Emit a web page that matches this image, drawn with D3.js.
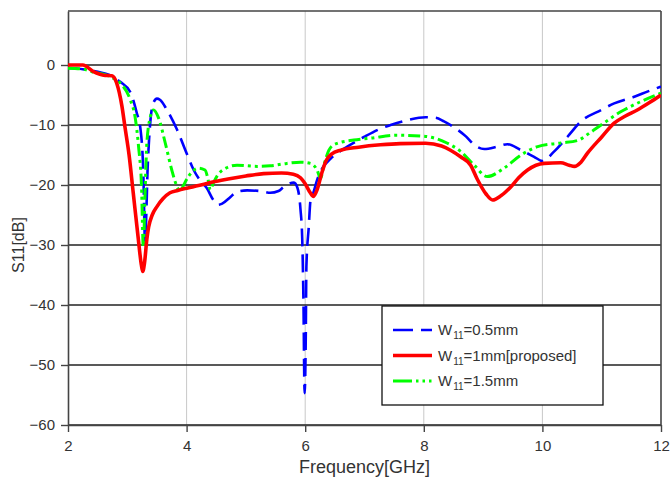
<!DOCTYPE html>
<html>
<head>
<meta charset="utf-8">
<script src="https://cdn.jsdelivr.net/npm/d3@7"></script>
<style>
  html, body { margin: 0; padding: 0; background: #fff; }
  svg { display: block; font-family: "Liberation Sans", Arial, sans-serif; }
</style>
</head>
<body>
<svg id="chart" width="670" height="481"></svg>
<script>
// ---- data ----
const xTicks = [2, 4, 6, 8, 10, 12];
const yTicks = [0, -10, -20, -30, -40, -50, -60];

const freqBlue = [2.0,2.25,2.48,2.71,2.8,2.88,3.05,3.16,3.22,3.27,3.3,3.32,3.34,3.37,3.41,3.44,3.5,3.55,3.67,3.84,4.0,4.12,4.25,4.34,4.45,4.53,4.6,4.74,4.85,5.02,5.24,5.41,5.55,5.64,5.81,5.87,5.92,5.95,5.97,5.99,6.01,6.02,6.06,6.09,6.14,6.2,6.29,6.43,6.71,6.99,7.27,7.44,7.72,8.03,8.2,8.34,8.57,8.71,8.85,9.02,9.24,9.41,9.64,9.86,10.0,10.2,10.42,10.65,10.99,11.21,11.55,11.78,12.0];
const s11Blue  = [-0.5,-0.7,-1.1,-1.7,-2.2,-2.8,-4.5,-8,-10.5,-18,-29.7,-25,-18,-12,-7.5,-6.3,-5.6,-5.8,-7.5,-10.8,-14.7,-17.5,-19.5,-20.5,-22.5,-23.3,-23.1,-22,-21.1,-20.9,-21,-21.3,-21,-20.3,-19.6,-20.5,-24,-29,-39,-54.7,-45,-33.6,-27,-22.5,-21.2,-19.2,-17.2,-15.6,-13.6,-12,-10.6,-10,-9.2,-8.7,-8.8,-9.4,-10.8,-11.9,-13.3,-14,-13.6,-13.2,-14.2,-15.3,-16,-14.4,-12,-9.4,-7.5,-6.4,-5.3,-4.4,-3.6];

const freqRed = [2.0,2.25,2.43,2.6,2.74,2.82,2.91,2.96,3.03,3.1,3.18,3.24,3.26,3.29,3.33,3.36,3.42,3.5,3.6,3.72,3.85,4.02,4.2,4.4,4.7,5.0,5.3,5.6,5.8,5.92,6.0,6.08,6.14,6.2,6.28,6.35,6.45,6.6,6.9,7.27,7.6,8.03,8.3,8.45,8.62,8.79,8.9,9.05,9.16,9.3,9.47,9.6,9.75,10.03,10.31,10.45,10.54,10.65,10.76,11.0,11.21,11.4,11.6,11.8,12.0];
const s11Red  = [0,0,-1.1,-1.7,-1.8,-3,-6.9,-10.3,-15,-21.3,-28.5,-33.5,-34.4,-33,-29,-27,-25,-23.6,-22.3,-21.3,-20.9,-20.5,-20.1,-19.6,-19,-18.5,-18.1,-18,-18.2,-18.8,-19.8,-21.2,-21.9,-20.8,-18,-16,-14.8,-14.2,-13.7,-13.3,-13.1,-13.05,-13.5,-14.2,-15.3,-16.7,-19,-21.5,-22.5,-21.8,-20.3,-18.8,-17.5,-16.4,-16.3,-16.7,-16.9,-16.2,-14.7,-12,-9.7,-8.5,-7.5,-6.3,-5];

const freqGreen = [2.0,2.26,2.43,2.65,2.76,2.88,3.05,3.13,3.19,3.24,3.27,3.3,3.33,3.39,3.44,3.53,3.64,3.75,3.84,3.89,3.95,4.03,4.2,4.31,4.36,4.4,4.45,4.57,4.85,5.19,5.41,5.69,5.92,6.09,6.2,6.26,6.31,6.4,6.48,6.82,7.1,7.55,8.03,8.39,8.62,8.85,9.07,9.35,9.64,9.92,10.31,10.59,10.8,10.99,11.32,11.66,12.0];
const s11Green  = [-0.55,-0.7,-1.2,-1.7,-2.2,-3,-5.8,-8.6,-13.6,-20.3,-30.3,-21.3,-13,-8.6,-7.5,-8.9,-13,-17.5,-20.3,-21.1,-20,-18.6,-17.2,-17.5,-19,-20.8,-19.7,-17.8,-16.7,-16.9,-16.8,-16.4,-16.2,-16.4,-17.5,-18.9,-16.9,-14.2,-13.3,-12.5,-12.2,-11.7,-11.9,-13,-14.4,-16.7,-18.6,-17.2,-15,-13.6,-13,-12.6,-11.3,-10,-7.8,-6.1,-4.7];

const seriesNames = ["0.5mm", "1mm[proposed]", "1.5mm"];
const seriesColors = ["#0000ff", "#ff0000", "#00ff00"];

// ---- layout ----
const svg = d3.select("#chart");
const L = 68, R = 661, T = 11, B = 425;
const x = d3.scaleLinear().domain([2, 12]).range([L, R]);
const y = d3.scaleLinear().domain([-60, 9]).range([B, T]);

// vertical grid (light gray)
svg.append("g").selectAll("line").data(xTicks.slice(1, -1)).join("line")
  .attr("x1", d => x(d)).attr("x2", d => x(d)).attr("y1", T).attr("y2", B)
  .attr("stroke", "#c8c8c8").attr("stroke-width", 1);

// horizontal grid (dark)
svg.append("g").selectAll("line").data(yTicks).join("line")
  .attr("x1", L).attr("x2", R).attr("y1", d => y(d)).attr("y2", d => y(d))
  .attr("stroke", "#222").attr("stroke-width", 1.4);

// axes
const xAxis = d3.axisBottom(x).tickValues(xTicks).tickSize(7).tickSizeOuter(0).tickPadding(8);
const gx = svg.append("g").attr("transform", `translate(0,${B})`).call(xAxis);
gx.select(".domain").attr("stroke", "#444").attr("stroke-width", 1.6);
gx.selectAll(".tick line").attr("stroke", "#444").attr("stroke-width", 1.4);
gx.selectAll("text").attr("font-size", 15).attr("fill", "#333")
  .attr("font-family", "'Liberation Sans', Arial, sans-serif");

const yAxis = d3.axisLeft(y).tickValues(yTicks).tickSize(7).tickSizeOuter(0).tickPadding(6);
const gy = svg.append("g").attr("transform", `translate(${L},0)`).call(yAxis);
gy.select(".domain").attr("stroke", "#444").attr("stroke-width", 1.6);
gy.selectAll(".tick line").attr("stroke", "#444").attr("stroke-width", 1.4);
gy.selectAll("text").attr("font-size", 15).attr("fill", "#333")
  .attr("font-family", "'Liberation Sans', Arial, sans-serif");

// top & right borders
svg.append("line").attr("x1", L).attr("x2", R).attr("y1", T).attr("y2", T)
  .attr("stroke", "#444").attr("stroke-width", 1.6);
svg.append("line").attr("x1", R).attr("x2", R).attr("y1", T).attr("y2", B)
  .attr("stroke", "#444").attr("stroke-width", 1.6);

// clip
svg.append("clipPath").attr("id", "clip").append("rect")
  .attr("x", L).attr("y", T).attr("width", R - L).attr("height", B - T);

const line = d3.line().x(d => x(d[0])).y(d => y(d[1])).curve(d3.curveMonotoneX);
const zip = (a, b) => a.map((v, i) => [v, b[i]]);

const styles = [
  { data: zip(freqBlue, s11Blue), color: seriesColors[0], width: 2.6, dash: "18,8" },
  { data: zip(freqGreen, s11Green), color: seriesColors[2], width: 3, dash: "12,4,3,4,3,4" },
  { data: zip(freqRed, s11Red), color: seriesColors[1], width: 3.6, dash: null }
];
const plot = svg.append("g").attr("clip-path", "url(#clip)");
styles.forEach(s => {
  plot.append("path").attr("d", line(s.data))
    .attr("fill", "none").attr("stroke", s.color).attr("stroke-width", s.width)
    .attr("stroke-dasharray", s.dash).attr("stroke-linejoin", "round");
});

// axis titles
svg.append("text").attr("x", (L + R) / 2).attr("y", 473).attr("text-anchor", "middle")
  .attr("font-size", 18).attr("fill", "#333").text("Frequency[GHz]");
svg.append("text").attr("transform", "translate(24,245) rotate(-90)").attr("text-anchor", "middle")
  .attr("font-size", 16).attr("fill", "#333").text("S11[dB]");

// legend
const lg = svg.append("g");
lg.append("rect").attr("x", 382).attr("y", 306).attr("width", 221).attr("height", 99)
  .attr("fill", "#fff").attr("stroke", "#111").attr("stroke-width", 1.3);
const legendItems = [
  { name: seriesNames[0], color: seriesColors[0], width: 2.6, dash: "20,8" },
  { name: seriesNames[1], color: seriesColors[1], width: 3.6, dash: null },
  { name: seriesNames[2], color: seriesColors[2], width: 3, dash: "19,4,2.5,4,2.5,4,2.5,4" }
];
legendItems.forEach((it, i) => {
  const yy = 330 + i * 25.5;
  lg.append("line").attr("x1", 393).attr("x2", 432).attr("y1", yy).attr("y2", yy)
    .attr("stroke", it.color).attr("stroke-width", it.width).attr("stroke-dasharray", it.dash);
  const t = lg.append("text").attr("x", 438).attr("y", yy + 5).attr("font-size", 15).attr("fill", "#333");
  t.append("tspan").text("W");
  t.append("tspan").attr("font-size", 10).attr("dy", 4).attr("dx", 1).text("11");
  t.append("tspan").attr("dy", -4).text("=" + it.name);
});
</script>
</body>
</html>
